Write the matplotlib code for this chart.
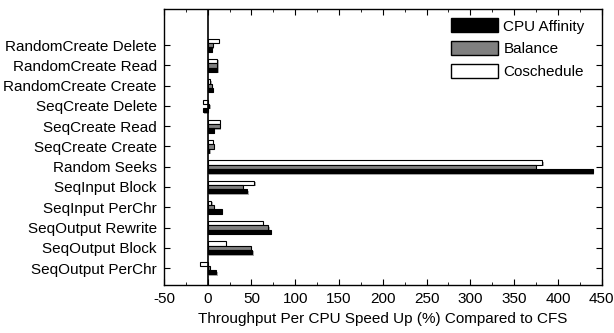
import matplotlib
matplotlib.use("Agg")
import matplotlib.pyplot as plt
import matplotlib.patheffects as pe
from matplotlib.patches import Patch
from matplotlib.ticker import MultipleLocator
import numpy as np

plt.rcParams['font.family'] = ['Liberation Sans', 'DejaVu Sans']

categories = ["RandomCreate Delete", "RandomCreate Read", "RandomCreate Create",
              "SeqCreate Delete", "SeqCreate Read", "SeqCreate Create",
              "Random Seeks", "SeqInput Block", "SeqInput PerChr",
              "SeqOutput Rewrite", "SeqOutput Block", "SeqOutput PerChr"]
cpu_affinity = [4.5, 11, 6, -5.5, 7, 1.6, 440, 45, 16, 72, 51, 10]
balance      = [6, 11, 4.5, 2, 13.5, 6.8, 375, 40, 6.8, 69, 49.5, 2.3]
coschedule   = [12.5, 11, 3, -5.5, 13.5, 5.7, 382, 53, 4.2, 63, 21, -8.3]
xticks = list(range(-50, 451, 50))

fig = plt.figure(figsize=(6.14, 3.33), dpi=100)
ax = fig.add_axes([0.267, 0.144, 0.713, 0.828])

y = np.arange(len(categories))
h = 0.21
shadow = [pe.SimplePatchShadow(offset=(1, -1), shadow_rgbFace='#999999', alpha=0.8), pe.Normal()]
series = [(coschedule, 'white', -h), (balance, '#808080', 0), (cpu_affinity, 'black', h)]
for vals, col, off in series:
    bars = ax.barh(y + off, vals, height=h, color=col, edgecolor='black', linewidth=0.8)
    for b in bars:
        b.set_path_effects(shadow)

ax.axvline(0, color='black', linewidth=1.2)
ax.set_xlim(-50, 450)
ax.set_ylim(11.84, -1.77)
ax.set_yticks(y)
ax.set_yticklabels(categories, fontsize=11)
ax.set_xticks(xticks)
ax.set_xticklabels([str(t) for t in xticks], fontsize=11)
ax.xaxis.set_minor_locator(MultipleLocator(25))
ax.tick_params(axis='both', which='both', direction='in', top=True, right=True)
ax.tick_params(which='major', length=4, pad=5)
ax.tick_params(which='minor', length=2)
ax.set_xlabel("Throughput Per CPU Speed Up (%) Compared to CFS", fontsize=11, labelpad=4)
for s in ax.spines.values():
    s.set_linewidth(1.0)

handles = [Patch(facecolor='black', edgecolor='black', label='CPU Affinity'),
           Patch(facecolor='#808080', edgecolor='black', label='Balance'),
           Patch(facecolor='white', edgecolor='black', label='Coschedule')]
ax.legend(handles=handles, loc='upper right', frameon=False, fontsize=11,
          handlelength=3.1, handleheight=1.0, labelspacing=0.5, handletextpad=0.35,
          borderaxespad=0.2, bbox_to_anchor=(0.982, 1.0))

fig.savefig("out.png", dpi=100)
